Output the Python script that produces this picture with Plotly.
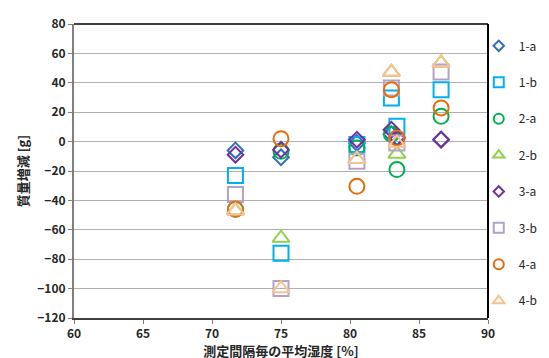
import plotly.graph_objects as go

series_names = ["1-a", "1-b", "2-a", "2-b", "3-a", "3-b", "4-a", "4-b"]
humidity = [71.7, 75.0, 80.5, 83.0, 83.4, 86.6]

v_1a = [-6, -10.7, -1, 5, 3, 1.5]
v_1b = [-23, -76, -2, 29.7, 10.4, 35.3]
v_2a = [-46, -6.6, -4.4, 5, -19, 17.2]
v_2b = [-47, -65.6, -12, 47.3, -8.4, 53.5]
v_3a = [-8.9, -5.5, 1.3, 8.1, 2.4, 1.3]
v_3b = [-36, -100, -13.4, 36.5, -1, 47.3]
v_4a = [-46, 2, -30.4, 35.3, 2.4, 22.9]
v_4b = [-47, -100, -12, 47.3, -1, 53.5]

values = [v_1a, v_1b, v_2a, v_2b, v_3a, v_3b, v_4a, v_4b]
colors = ["#2F6EBA", "#00B0F0", "#00B050", "#92D050", "#7030A0", "#B3A2C7", "#E46C0A", "#FAC090"]
symbols = ["diamond-open", "square-open", "circle-open", "triangle-up-open",
           "diamond-open", "square-open", "circle-open", "triangle-up-open"]
sizes = [12, 15, 15, 15, 12, 15, 15, 15]
legend_sizes = [8, 10, 10, 10, 8, 10, 10, 10]

FONT = "Noto Sans CJK JP"

fig = go.Figure()
for name, vals, c, s, sz in zip(series_names, values, colors, symbols, sizes):
    fig.add_trace(go.Scatter(
        x=humidity, y=vals, mode="markers", name=name, legendgroup=name,
        showlegend=False,
        marker=dict(symbol=s, size=sz, color=c, line=dict(color=c, width=2)),
    ))
# legend entries with smaller symbols (as in the reference)
for name, c, s, lsz in zip(series_names, colors, symbols, legend_sizes):
    fig.add_trace(go.Scatter(
        x=[None], y=[None], mode="markers", name=name, legendgroup=name,
        marker=dict(symbol=s, size=lsz, color=c, line=dict(color=c, width=2)),
    ))

fig.update_layout(
    width=549, height=358,
    margin=dict(l=66, r=0, t=16, b=48, autoexpand=False),
    paper_bgcolor="white", plot_bgcolor="white",
    font=dict(family=FONT, size=12, color="#262626"),
    showlegend=True,
    legend=dict(x=0.838, y=0.975, xanchor="left", yanchor="top",
                tracegroupgap=17.4,
                font=dict(family=FONT, size=12, color="#262626"),
                itemwidth=30, bgcolor="rgba(0,0,0,0)"),
    xaxis=dict(domain=[0, 414 / 483], range=[60, 90], dtick=5, tick0=60,
               showgrid=False, zeroline=False,
               showline=True, linecolor="#404040", linewidth=1.5,
               ticks="outside", ticklen=4, tickcolor="#808080",
               tickfont=dict(family=FONT, size=12, color="#262626", weight="bold"),
               title=dict(text="測定間隔毎の平均湿度 [%]", standoff=0,
                          font=dict(family=FONT, size=13, color="#262626", weight="bold"))),
    yaxis=dict(range=[-120, 80], dtick=20, tick0=-120,
               showgrid=True, gridcolor="#B0B0B0", gridwidth=1, zeroline=False,
               showline=True, linecolor="#7F7F7F", linewidth=2,
               ticks="outside", ticklen=4, tickcolor="#808080",
               tickfont=dict(family=FONT, size=12, color="#262626", weight="bold"),
               title=dict(text="質量増減 [g]", standoff=6,
                          font=dict(family=FONT, size=13, color="#262626", weight="bold"))),
    shapes=[
        dict(type="line", xref="x domain", yref="y domain", x0=0, x1=1, y0=1, y1=1,
             line=dict(color="black", width=1.5), layer="above"),
        dict(type="line", xref="x domain", yref="y domain", x0=1, x1=1, y0=0, y1=1,
             line=dict(color="black", width=2), layer="above"),
    ],
)

fig.write_html("out.html")
